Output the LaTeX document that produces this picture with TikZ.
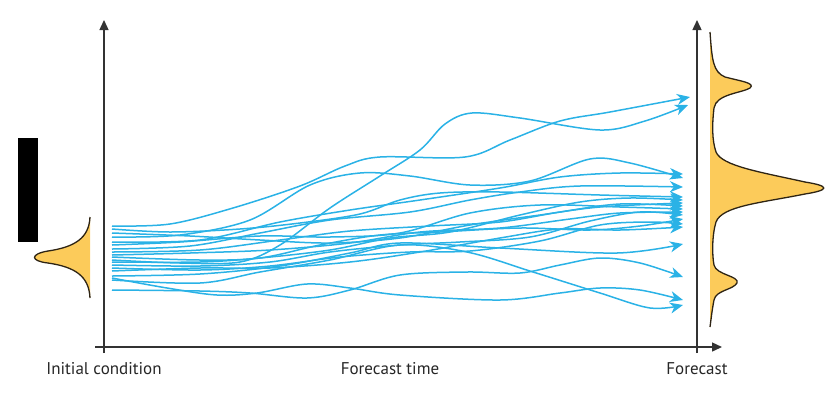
\documentclass[tikz,border=0pt]{standalone}
\usepackage{fontspec}
\setmainfont{PT Sans}
\usetikzlibrary{arrows.meta}
\definecolor{traj}{HTML}{2AB2E6}
\definecolor{dens}{HTML}{FCCB5A}
\definecolor{densline}{HTML}{2E2414}
\definecolor{axis}{HTML}{333333}
\begin{document}
\begin{tikzpicture}[x=1pt,y=-1pt,
  trajline/.style={traj,line width=1.5pt,-{Stealth[length=13pt,width=11pt,inset=4pt]}},
  axisline/.style={axis,line width=1.4pt},
  axisarrow/.style={axisline,-{Triangle[length=10pt,width=9pt]}},
  lbl/.style={text=black!85,font=\fontsize{17}{19}\selectfont,anchor=base},
  densfill/.style={fill=dens},
  densdraw/.style={densline,line width=1.3pt}]
\useasboundingbox (0,0) rectangle (840,392);

% black bar
\fill[black] (18,138) rectangle (38,242);

% coordinates of axes
\coordinate (lb) at (104,353);
\coordinate (lt) at (104,20);
\coordinate (rb) at (697,353);
\coordinate (rt) at (697,20);
\coordinate (hl) at (95,347);
\coordinate (hr) at (722,347);

% initial density
\fill[densfill] (90,217) .. controls (89,238) and (75,247) .. (48,251)
  .. controls (30,254) and (30,261) .. (48,263)
  .. controls (75,267) and (89,276) .. (90,298) -- cycle;
\draw[densdraw] (90,217) .. controls (89,238) and (75,247) .. (48,251)
  .. controls (30,254) and (30,261) .. (48,263)
  .. controls (75,267) and (89,276) .. (90,298);

% forecast density
\def\forecastpath{(710,32) .. controls (712,60) and (713,72) .. (725,77)
  .. controls (740,81) and (756,83) .. (750,88)
  .. controls (742,93) and (716,94) .. (714,108)
  .. controls (712,125) and (712,140) .. (716,152)
  .. controls (722,166) and (760,172) .. (805,182)
  .. controls (830,186) and (830,190) .. (805,194)
  .. controls (760,203) and (722,206) .. (716,222)
  .. controls (712,235) and (712,255) .. (714,265)
  .. controls (716,275) and (740,276) .. (737,283)
  .. controls (733,290) and (716,290) .. (714,300)
  .. controls (712,310) and (711,320) .. (710,327)}
\fill[densfill] \forecastpath -- cycle;
\draw[densdraw] \forecastpath;

% trajectories
\begin{scope}[smooth,tension=0.55]
\draw[trajline] plot coordinates {(112,226) (170,224) (233,208) (300,186) (345,166) (380,157) (465,157) (510,140) (560,121) (610,112) (690,97)};
\draw[trajline] plot coordinates {(112,260) (180,263) (240,262) (280,245) (330,208) (380,176) (420,150) (445,124) (472,113) (520,118) (600,130) (645,121) (688,105)};
\draw[trajline] plot coordinates {(112,237) (180,235) (250,220) (310,185) (360,173) (410,176) (470,185) (530,181) (590,159) (630,163) (683,178)};
\draw[trajline] plot coordinates {(112,242) (200,240) (280,222) (350,210) (420,200) (500,188) (560,177) (620,173) (683,174)};
\draw[trajline] plot coordinates {(112,249) (190,246) (260,233) (330,220) (410,212) (470,200) (520,192) (580,186) (683,187)};
\draw[trajline] plot coordinates {(112,229) (170,232) (240,229) (300,223) (360,214) (400,200) (440,193) (500,192) (600,195) (683,197)};
\draw[trajline] plot coordinates {(112,262) (200,262) (260,258) (330,250) (390,238) (450,232) (520,215) (580,202) (630,198) (683,200)};
\draw[trajline] plot coordinates {(112,233) (190,236) (260,240) (330,243) (400,238) (470,225) (540,215) (600,207) (683,203)};
\draw[trajline] plot coordinates {(112,252) (200,250) (280,240) (350,231) (430,226) (500,222) (560,212) (620,204) (683,206)};
\draw[trajline] plot coordinates {(112,245) (180,242) (260,236) (330,237) (400,233) (470,213) (540,205) (620,207) (683,209)};
\draw[trajline] plot coordinates {(112,255) (190,253) (270,250) (350,243) (420,232) (500,228) (570,219) (620,213) (683,212)};
\draw[trajline] plot coordinates {(112,265) (200,266) (270,262) (330,252) (400,245) (460,242) (530,237) (590,221) (640,212) (683,215)};
\draw[trajline] plot coordinates {(112,257) (200,260) (260,258) (320,245) (380,235) (440,232) (520,228) (590,230) (640,226) (683,219)};
\draw[trajline] plot coordinates {(112,268) (200,270) (270,266) (340,257) (410,252) (470,251) (540,241) (600,225) (650,222) (683,224)};
\draw[trajline] plot coordinates {(112,271) (200,268) (270,268) (350,262) (420,252) (500,238) (560,229) (620,230) (683,227)};
\draw[trajline] plot coordinates {(112,276) (200,274) (280,266) (350,253) (400,243) (500,248) (617,253) (683,244)};
\draw[trajline] plot coordinates {(112,290) (200,291) (250,293) (307,298) (350,290) (400,275) (467,272) (520,273) (560,265) (600,258) (640,263) (683,277)};
\draw[trajline] plot coordinates {(112,278) (167,288) (217,295) (257,293) (307,284) (350,288) (400,295) (500,300) (560,293) (600,288) (640,290) (683,300)};
\draw[trajline] plot coordinates {(112,280) (200,283) (260,272) (330,260) (400,245) (467,252) (533,272) (600,293) (650,308) (683,305)};
\end{scope}

% axes
\draw[axisarrow] (lb) -- (lt);
\draw[axisarrow] (rb) -- (rt);
\draw[axisarrow] (hl) -- (hr);

% labels
\node[lbl] (ic) at (104,374) {Initial condition};
\node[lbl] (ft) at (390,374) {Forecast time};
\node[lbl] (fc) at (697,374) {Forecast};
\end{tikzpicture}
\end{document}
